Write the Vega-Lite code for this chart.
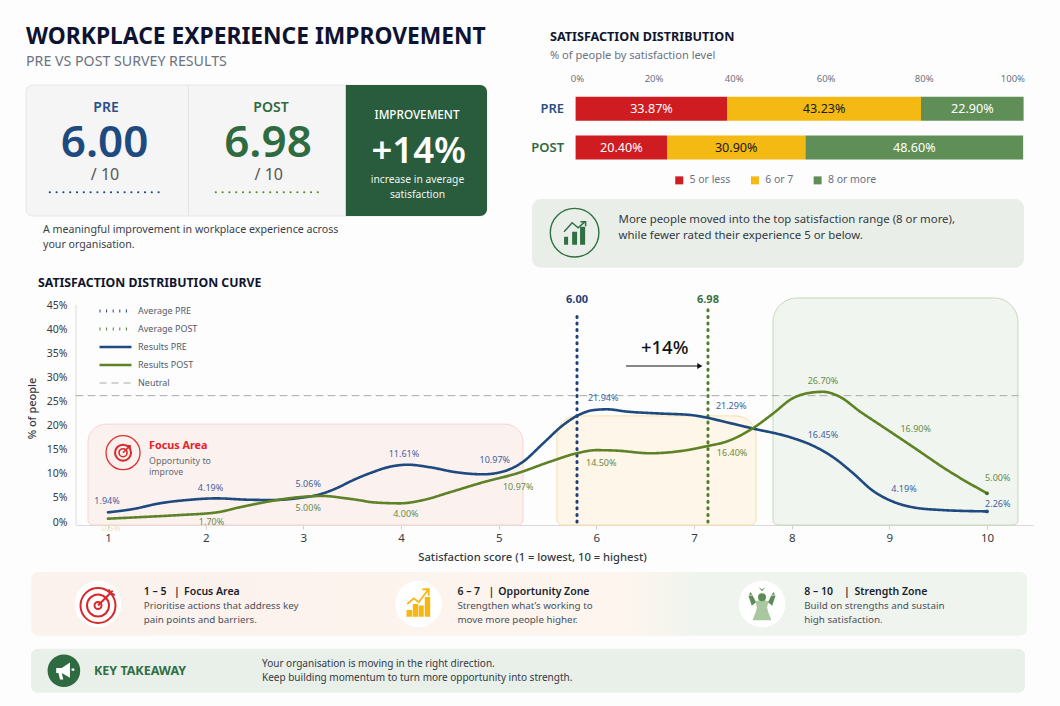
{
  "$schema": "https://vega.github.io/schema/vega-lite/v6.json",
  "description": "Workplace experience improvement, pre vs post survey results.",
  "background": "#fdfdfd",
  "padding": 0,
  "autosize": "none",
  "width": 1060,
  "height": 706,
  "config": {
    "font": "Noto Sans",
    "view": {"stroke": null},
    "axis": {"domain": false, "ticks": false, "labels": false, "grid": false, "title": null}
  },
  "datasets": {
    "curve": [
      {"series": "Average PRE", "score": 5.802, "pct": 0},
      {"series": "Average PRE", "score": 5.802, "pct": 43.2},
      {"series": "Average POST", "score": 7.143, "pct": 0},
      {"series": "Average POST", "score": 7.143, "pct": 44.2},
      {"series": "Neutral", "score": 0.6724, "pct": 26.2},
      {"series": "Neutral", "score": 10.317, "pct": 26.2},
      {"series": "Results PRE", "score": 1.0, "pct": 2.0},
      {"series": "Results PRE", "score": 1.26, "pct": 2.7},
      {"series": "Results PRE", "score": 1.53, "pct": 3.87},
      {"series": "Results PRE", "score": 1.81, "pct": 4.56},
      {"series": "Results PRE", "score": 2.115, "pct": 4.9},
      {"series": "Results PRE", "score": 2.42, "pct": 4.63},
      {"series": "Results PRE", "score": 2.69, "pct": 4.56},
      {"series": "Results PRE", "score": 2.96, "pct": 4.98},
      {"series": "Results PRE", "score": 3.17, "pct": 5.74},
      {"series": "Results PRE", "score": 3.375, "pct": 7.33},
      {"series": "Results PRE", "score": 3.48, "pct": 8.4},
      {"series": "Results PRE", "score": 3.68, "pct": 10.1},
      {"series": "Results PRE", "score": 3.89, "pct": 11.47},
      {"series": "Results PRE", "score": 4.07, "pct": 11.88},
      {"series": "Results PRE", "score": 4.3, "pct": 11.34},
      {"series": "Results PRE", "score": 4.57, "pct": 10.3},
      {"series": "Results PRE", "score": 4.84, "pct": 9.89},
      {"series": "Results PRE", "score": 5.04, "pct": 10.43},
      {"series": "Results PRE", "score": 5.25, "pct": 12.5},
      {"series": "Results PRE", "score": 5.455, "pct": 16.3},
      {"series": "Results PRE", "score": 5.66, "pct": 20.1},
      {"series": "Results PRE", "score": 5.83, "pct": 22.3},
      {"series": "Results PRE", "score": 5.97, "pct": 23.2},
      {"series": "Results PRE", "score": 6.11, "pct": 23.37},
      {"series": "Results PRE", "score": 6.31, "pct": 22.9},
      {"series": "Results PRE", "score": 6.65, "pct": 22.5},
      {"series": "Results PRE", "score": 6.96, "pct": 22.2},
      {"series": "Results PRE", "score": 7.14, "pct": 21.6},
      {"series": "Results PRE", "score": 7.33, "pct": 20.7},
      {"series": "Results PRE", "score": 7.6, "pct": 19.4},
      {"series": "Results PRE", "score": 7.98, "pct": 17.6},
      {"series": "Results PRE", "score": 8.22, "pct": 15.8},
      {"series": "Results PRE", "score": 8.42, "pct": 13.5},
      {"series": "Results PRE", "score": 8.63, "pct": 10.1},
      {"series": "Results PRE", "score": 8.83, "pct": 6.5},
      {"series": "Results PRE", "score": 9.04, "pct": 4.2},
      {"series": "Results PRE", "score": 9.24, "pct": 3.05},
      {"series": "Results PRE", "score": 9.52, "pct": 2.5},
      {"series": "Results PRE", "score": 10, "pct": 2.2},
      {"series": "Results POST", "score": 1.0, "pct": 0.69},
      {"series": "Results POST", "score": 1.36, "pct": 1.04},
      {"series": "Results POST", "score": 1.74, "pct": 1.45},
      {"series": "Results POST", "score": 2.115, "pct": 2.0},
      {"series": "Results POST", "score": 2.35, "pct": 3.05},
      {"series": "Results POST", "score": 2.63, "pct": 4.2},
      {"series": "Results POST", "score": 2.97, "pct": 5.18},
      {"series": "Results POST", "score": 3.2, "pct": 5.4},
      {"series": "Results POST", "score": 3.41, "pct": 4.98},
      {"series": "Results POST", "score": 3.58, "pct": 4.5},
      {"series": "Results POST", "score": 3.71, "pct": 4.08},
      {"series": "Results POST", "score": 3.99, "pct": 3.87},
      {"series": "Results POST", "score": 4.23, "pct": 4.56},
      {"series": "Results POST", "score": 4.5, "pct": 6.16},
      {"series": "Results POST", "score": 4.84, "pct": 8.23},
      {"series": "Results POST", "score": 5.19, "pct": 10.1},
      {"series": "Results POST", "score": 5.525, "pct": 12.5},
      {"series": "Results POST", "score": 5.8, "pct": 14.25},
      {"series": "Results POST", "score": 6.0, "pct": 14.9},
      {"series": "Results POST", "score": 6.21, "pct": 14.8},
      {"series": "Results POST", "score": 6.55, "pct": 14.25},
      {"series": "Results POST", "score": 6.86, "pct": 14.7},
      {"series": "Results POST", "score": 7.14, "pct": 15.76},
      {"series": "Results POST", "score": 7.33, "pct": 16.66},
      {"series": "Results POST", "score": 7.6, "pct": 19.4},
      {"series": "Results POST", "score": 7.81, "pct": 22.5},
      {"series": "Results POST", "score": 8.01, "pct": 25.65},
      {"series": "Results POST", "score": 8.19, "pct": 26.8},
      {"series": "Results POST", "score": 8.32, "pct": 27.0},
      {"series": "Results POST", "score": 8.49, "pct": 26.0},
      {"series": "Results POST", "score": 8.7, "pct": 22.9},
      {"series": "Results POST", "score": 8.93, "pct": 19.8},
      {"series": "Results POST", "score": 9.24, "pct": 15.6},
      {"series": "Results POST", "score": 9.59, "pct": 10.8},
      {"series": "Results POST", "score": 10, "pct": 5.95}
    ],
    "curveLabels": [
      {"survey": "PRE", "label": "1.94%", "score": 0.99, "pct": 4.35},
      {"survey": "PRE", "label": "4.19%", "score": 2.05, "pct": 7.1},
      {"survey": "PRE", "label": "5.06%", "score": 3.05, "pct": 7.88},
      {"survey": "PRE", "label": "11.61%", "score": 4.03, "pct": 14.1},
      {"survey": "PRE", "label": "10.97%", "score": 4.96, "pct": 12.8},
      {"survey": "PRE", "label": "21.94%", "score": 6.07, "pct": 25.8},
      {"survey": "PRE", "label": "21.29%", "score": 7.38, "pct": 24.1},
      {"survey": "PRE", "label": "16.45%", "score": 8.32, "pct": 18},
      {"survey": "PRE", "label": "4.19%", "score": 9.15, "pct": 6.9},
      {"survey": "PRE", "label": "2.26%", "score": 10.11, "pct": 3.8},
      {"survey": "POST", "label": "1.70%", "score": 2.06, "pct": 0.06},
      {"survey": "POST", "label": "5.00%", "score": 3.05, "pct": 2.97},
      {"survey": "POST", "label": "4.00%", "score": 4.05, "pct": 1.72},
      {"survey": "POST", "label": "10.97%", "score": 5.2, "pct": 7.2},
      {"survey": "POST", "label": "14.50%", "score": 6.05, "pct": 12.3},
      {"survey": "POST", "label": "16.40%", "score": 7.39, "pct": 14.3},
      {"survey": "POST", "label": "26.70%", "score": 8.32, "pct": 29.2},
      {"survey": "POST", "label": "16.90%", "score": 9.27, "pct": 19.3},
      {"survey": "POST", "label": "5.00%", "score": 10.11, "pct": 9.1}
    ],
    "shares": [
      {"survey": "PRE", "level": "5 or less", "rank": 1, "share": 33.87, "label": "33.87%"},
      {"survey": "PRE", "level": "6 or 7", "rank": 2, "share": 43.23, "label": "43.23%"},
      {"survey": "PRE", "level": "8 or more", "rank": 3, "share": 22.9, "label": "22.90%"},
      {"survey": "POST", "level": "5 or less", "rank": 1, "share": 20.4, "label": "20.40%"},
      {"survey": "POST", "level": "6 or 7", "rank": 2, "share": 30.9, "label": "30.90%"},
      {"survey": "POST", "level": "8 or more", "rank": 3, "share": 48.6, "label": "48.60%"}
    ]
  },
  "data": {"values": [{}]},
  "resolve": {"scale": {"x": "independent", "y": "independent", "color": "independent", "strokeDash": "independent", "strokeWidth": "independent"}},
  "layer": [
    {
      "layer": [
        {"mark": {"type": "text", "text": "WORKPLACE EXPERIENCE IMPROVEMENT", "align": "left", "baseline": "alphabetic", "fontSize": 22.8, "fontWeight": 700, "color": "#0d1330"},
          "encoding": {"x": {"datum": 26, "scale": {"domain": [0, 1060], "range": [0, 1060], "nice": false, "zero": false}}, "y": {"datum": 44, "scale": {"domain": [0, 706], "range": [0, 706], "nice": false, "zero": false}}}},
        {"mark": {"type": "text", "text": "PRE VS POST SURVEY RESULTS", "align": "left", "baseline": "alphabetic", "fontSize": 14.2, "color": "#6b7280"},
          "encoding": {"x": {"datum": 26}, "y": {"datum": 66}}},
        {"mark": {"type": "rect", "fill": "#f5f5f5", "stroke": "#e6e6e6", "cornerRadius": 7},
          "encoding": {"x": {"datum": 26}, "x2": {"datum": 487}, "y": {"datum": 85}, "y2": {"datum": 216}}},
        {"mark": {"type": "rule", "color": "#e3e3e3"},
          "encoding": {"x": {"datum": 188.3}, "y": {"datum": 85}, "y2": {"datum": 216}}},
        {"mark": {"type": "rect", "fill": "#285c3d", "cornerRadiusTopRight": 7, "cornerRadiusBottomRight": 7},
          "encoding": {"x": {"datum": 345.8}, "x2": {"datum": 487}, "y": {"datum": 85}, "y2": {"datum": 216}}},
        {"data": {"values": [{"survey": "PRE"}]},
          "mark": {"type": "text", "fontSize": 14, "fontWeight": 600, "color": "#2a5085"},
          "encoding": {"text": {"field": "survey"}, "x": {"datum": 106}, "y": {"datum": 108}}},
        {"data": {"values": [{"survey": "POST"}]},
          "mark": {"type": "text", "fontSize": 14, "fontWeight": 600, "color": "#2f6b40"},
          "encoding": {"text": {"field": "survey"}, "x": {"datum": 271}, "y": {"datum": 108}}},
        {"data": {"values": [{"average": 6.0}]},
          "mark": {"type": "text", "baseline": "alphabetic", "fontSize": 44, "fontWeight": 600, "color": "#1f4a80"},
          "encoding": {"text": {"field": "average", "format": ".2f"}, "x": {"datum": 104.6}, "y": {"datum": 157.3}}},
        {"data": {"values": [{"average": 6.98}]},
          "mark": {"type": "text", "baseline": "alphabetic", "fontSize": 44, "fontWeight": 600, "color": "#2f6b40"},
          "encoding": {"text": {"field": "average", "format": ".2f"}, "x": {"datum": 268}, "y": {"datum": 157.3}}},
        {"mark": {"type": "text", "text": "/ 10", "fontSize": 16, "color": "#555555"},
          "encoding": {"x": {"datum": 105}, "y": {"datum": 174.7}}},
        {"mark": {"type": "text", "text": "/ 10", "fontSize": 16, "color": "#555555"},
          "encoding": {"x": {"datum": 268.8}, "y": {"datum": 174.7}}},
        {"mark": {"type": "rule", "color": "#1f4a80", "strokeWidth": 2, "strokeCap": "round", "strokeDash": [0.2, 6.6]},
          "encoding": {"x": {"datum": 49.7}, "x2": {"datum": 159}, "y": {"datum": 192.3}}},
        {"mark": {"type": "rule", "color": "#5d8a2a", "strokeWidth": 2, "strokeCap": "round", "strokeDash": [0.2, 6.6]},
          "encoding": {"x": {"datum": 215.7}, "x2": {"datum": 320}, "y": {"datum": 192.3}}},
        {"mark": {"type": "text", "text": "IMPROVEMENT", "fontSize": 11.7, "fontWeight": 500, "color": "#ffffff"},
          "encoding": {"x": {"datum": 417}, "y": {"datum": 115}}},
        {"mark": {"type": "text", "text": "+14%", "baseline": "alphabetic", "fontSize": 36.5, "fontWeight": 600, "color": "#ffffff"},
          "encoding": {"x": {"datum": 418.7}, "y": {"datum": 163.3}}},
        {"mark": {"type": "text", "text": "increase in average", "fontSize": 10.3, "color": "#f0f4f0"},
          "encoding": {"x": {"datum": 417.5}, "y": {"datum": 180.3}}},
        {"mark": {"type": "text", "text": "satisfaction", "fontSize": 10.3, "color": "#f0f4f0"},
          "encoding": {"x": {"datum": 417.5}, "y": {"datum": 194.7}}},
        {"mark": {"type": "text", "text": "A meaningful improvement in workplace experience across", "align": "left", "fontSize": 10.65, "color": "#3a3f4a"},
          "encoding": {"x": {"datum": 43}, "y": {"datum": 230}}},
        {"mark": {"type": "text", "text": "your organisation.", "align": "left", "fontSize": 10.65, "color": "#3a3f4a"},
          "encoding": {"x": {"datum": 43}, "y": {"datum": 245}}},
        {"mark": {"type": "text", "text": "SATISFACTION DISTRIBUTION", "align": "left", "fontSize": 12.6, "fontWeight": 700, "color": "#10162f"},
          "encoding": {"x": {"datum": 550}, "y": {"datum": 37}}},
        {"mark": {"type": "text", "text": "% of people by satisfaction level", "align": "left", "fontSize": 11.1, "color": "#6b7280"},
          "encoding": {"x": {"datum": 550}, "y": {"datum": 56}}},
        {"mark": {"type": "rect", "fill": "#e9efe8", "cornerRadius": 9},
          "encoding": {"x": {"datum": 532}, "x2": {"datum": 1024}, "y": {"datum": 199}, "y2": {"datum": 267.7}}},
        {"mark": {"type": "point", "shape": "circle", "filled": false, "size": 2362, "stroke": "#2f7044", "strokeWidth": 1.4, "opacity": 1},
          "encoding": {"x": {"datum": 574.6}, "y": {"datum": 232.7}}},
        {"mark": {"type": "point", "shape": "M-.81,.31 L-.5,.31 L-.5,.92 L-.81,.92 Z M-.19,-.08 L.19,-.08 L.19,.92 L-.19,.92 Z M.42,-.46 L.81,-.46 L.81,.92 L.42,.92 Z", "filled": true, "size": 676, "color": "#2f7044", "opacity": 1},
          "encoding": {"x": {"datum": 574.6}, "y": {"datum": 232.7}}},
        {"mark": {"type": "point", "shape": "M-.81,-.08 L-.19,-.77 L.27,-.38 L.81,-.85 M.45,-.85 L.85,-.85 L.85,-.5", "filled": false, "fill": "transparent", "size": 676, "stroke": "#2f7044", "strokeWidth": 1.5, "opacity": 1},
          "encoding": {"x": {"datum": 574.6}, "y": {"datum": 232.7}}},
        {"mark": {"type": "text", "text": "More people moved into the top satisfaction range (8 or more),", "align": "left", "fontSize": 11.4, "color": "#333a44"},
          "encoding": {"x": {"datum": 618.6}, "y": {"datum": 220.3}}},
        {"mark": {"type": "text", "text": "while fewer rated their experience 5 or below.", "align": "left", "fontSize": 11.4, "color": "#333a44"},
          "encoding": {"x": {"datum": 618.6}, "y": {"datum": 236.3}}},
        {"mark": {"type": "text", "text": "SATISFACTION DISTRIBUTION CURVE", "align": "left", "fontSize": 12.3, "fontWeight": 700, "color": "#10162f"},
          "encoding": {"x": {"datum": 38}, "y": {"datum": 282.7}}},
        {"mark": {"type": "rect", "cornerRadius": 7, "fill": {"gradient": "linear", "x1": 0, "y1": 0, "x2": 1, "y2": 0, "stops": [{"offset": 0, "color": "#fbf1ed"}, {"offset": 0.6, "color": "#fdf5ee"}, {"offset": 0.67, "color": "#f0f4ee"}, {"offset": 1, "color": "#f0f4ef"}]}},
          "encoding": {"x": {"datum": 31.4}, "x2": {"datum": 1027}, "y": {"datum": 572}, "y2": {"datum": 635.7}}},
        {"mark": {"type": "rect", "fill": "#e9efe9", "cornerRadius": 7},
          "encoding": {"x": {"datum": 31}, "x2": {"datum": 1025}, "y": {"datum": 648.7}, "y2": {"datum": 692.7}}},
        {"mark": {"type": "point", "shape": "circle", "filled": true, "size": 2172, "color": "#ffffff", "opacity": 1},
          "encoding": {"x": {"datum": 98}, "y": {"datum": 604}}},
        {"mark": {"type": "point", "shape": "circle", "filled": true, "size": 2172, "color": "#ffffff", "opacity": 1},
          "encoding": {"x": {"datum": 418.5}, "y": {"datum": 604}}},
        {"mark": {"type": "point", "shape": "circle", "filled": true, "size": 2172, "color": "#ffffff", "opacity": 1},
          "encoding": {"x": {"datum": 762}, "y": {"datum": 604}}},
        {"mark": {"type": "point", "shape": "circle", "filled": false, "size": 1225, "stroke": "#d8282a", "strokeWidth": 2, "opacity": 1},
          "encoding": {"x": {"datum": 98}, "y": {"datum": 605.5}}},
        {"mark": {"type": "point", "shape": "circle", "filled": false, "size": 484, "stroke": "#d8282a", "strokeWidth": 2, "opacity": 1},
          "encoding": {"x": {"datum": 98}, "y": {"datum": 605.5}}},
        {"mark": {"type": "point", "shape": "circle", "filled": false, "size": 49, "stroke": "#d8282a", "strokeWidth": 2, "opacity": 1},
          "encoding": {"x": {"datum": 98}, "y": {"datum": 605.5}}},
        {"mark": {"type": "point", "shape": "M0,0 L.92,-.92 M.66,-1 L.8,-.75 L1.05,-.66", "filled": false, "fill": "transparent", "size": 1024, "stroke": "#d8282a", "strokeWidth": 2, "opacity": 1},
          "encoding": {"x": {"datum": 98}, "y": {"datum": 605.5}}},
        {"mark": {"type": "point", "shape": "M-.8,.4 L-.42,.4 L-.42,.85 L-.8,.85 Z M-.38,0 L-.02,0 L-.02,.85 L-.38,.85 Z M.02,.1 L.35,.1 L.35,.85 L.02,.85 Z M.42,-.47 L.78,-.47 L.78,.85 L.42,.85 Z", "filled": true, "size": 900, "color": "#f6b713", "opacity": 1},
          "encoding": {"x": {"datum": 418.5}, "y": {"datum": 604}}},
        {"mark": {"type": "point", "shape": "M-.75,0 L-.31,-.38 L.02,-.12 L.65,-.97 M.25,-.97 L.68,-1 L.68,-.55", "filled": false, "fill": "transparent", "size": 900, "stroke": "#f6b713", "strokeWidth": 1.8, "opacity": 1},
          "encoding": {"x": {"datum": 418.5}, "y": {"datum": 604}}},
        {"mark": {"type": "point", "shape": "M-.38,-.15 C-.2,-.25 .2,-.25 .38,-.15 L.3,.2 C.35,.5 .5,.75 .55,.95 L-.55,.95 C-.5,.75 -.35,.5 -.3,.2 Z", "filled": true, "size": 1156, "color": "#a9c8a0", "opacity": 1},
          "encoding": {"x": {"datum": 762}, "y": {"datum": 604}}},
        {"mark": {"type": "point", "shape": "M-.35,-.1 L-.55,-.5 L-.8,-.5 L-.6,.1 Z M.35,-.1 L.55,-.5 L.8,-.5 L.6,.1 Z M-.7,-.7 L-.55,-.55 L-.75,-.55 Z M.7,-.7 L.55,-.55 L.75,-.55 Z M-.2,-1 L0,-.85 L.2,-1 L0,-.75 Z", "filled": true, "size": 1156, "color": "#5b8e56", "opacity": 1},
          "encoding": {"x": {"datum": 762}, "y": {"datum": 604}}},
        {"mark": {"type": "point", "shape": "circle", "filled": true, "size": 64, "color": "#5b8e56", "opacity": 1},
          "encoding": {"x": {"datum": 762}, "y": {"datum": 597.3}}},
        {"mark": {"type": "point", "shape": "circle", "filled": true, "size": 1064, "color": "#2f6b40", "opacity": 1},
          "encoding": {"x": {"datum": 63.9}, "y": {"datum": 670.7}}},
        {"mark": {"type": "point", "shape": "M-.7,-.25 L-.2,-.25 L.55,-.75 L.55,.65 L-.2,.2 L-.7,.2 Z M-.5,.2 L-.2,.2 L-.05,.8 L-.35,.8 Z M.7,-.2 L.95,-.2 L.95,0 L.7,0 Z", "filled": true, "size": 484, "color": "#ffffff", "opacity": 1},
          "encoding": {"x": {"datum": 63.9}, "y": {"datum": 670.7}}},
        {"mark": {"type": "text", "text": "1 – 5", "align": "left", "fontSize": 10.5, "fontWeight": 600, "color": "#1a1f2b"}, "encoding": {"x": {"datum": 143.7}, "y": {"datum": 591.7}}},
        {"mark": {"type": "text", "text": "|", "align": "left", "fontSize": 10.5, "fontWeight": 600, "color": "#1a1f2b"}, "encoding": {"x": {"datum": 174}, "y": {"datum": 591.7}}},
        {"mark": {"type": "text", "text": "Focus Area", "align": "left", "fontSize": 10.5, "fontWeight": 600, "color": "#1a1f2b"}, "encoding": {"x": {"datum": 184}, "y": {"datum": 591.7}}},
        {"mark": {"type": "text", "text": "Prioritise actions that address key", "align": "left", "fontSize": 9.8, "color": "#4b505b"}, "encoding": {"x": {"datum": 143.7}, "y": {"datum": 606.3}}},
        {"mark": {"type": "text", "text": "pain points and barriers.", "align": "left", "fontSize": 9.8, "color": "#4b505b"}, "encoding": {"x": {"datum": 143.7}, "y": {"datum": 619.7}}},
        {"mark": {"type": "text", "text": "6 – 7", "align": "left", "fontSize": 10.5, "fontWeight": 600, "color": "#1a1f2b"}, "encoding": {"x": {"datum": 457.4}, "y": {"datum": 591.7}}},
        {"mark": {"type": "text", "text": "|", "align": "left", "fontSize": 10.5, "fontWeight": 600, "color": "#1a1f2b"}, "encoding": {"x": {"datum": 488.5}, "y": {"datum": 591.7}}},
        {"mark": {"type": "text", "text": "Opportunity Zone", "align": "left", "fontSize": 10.5, "fontWeight": 600, "color": "#1a1f2b"}, "encoding": {"x": {"datum": 498.3}, "y": {"datum": 591.7}}},
        {"mark": {"type": "text", "text": "Strengthen what’s working to", "align": "left", "fontSize": 9.8, "color": "#4b505b"}, "encoding": {"x": {"datum": 457.4}, "y": {"datum": 606.3}}},
        {"mark": {"type": "text", "text": "move more people higher.", "align": "left", "fontSize": 9.8, "color": "#4b505b"}, "encoding": {"x": {"datum": 457.4}, "y": {"datum": 619.7}}},
        {"mark": {"type": "text", "text": "8 – 10", "align": "left", "fontSize": 10.5, "fontWeight": 600, "color": "#1a1f2b"}, "encoding": {"x": {"datum": 804.2}, "y": {"datum": 591.7}}},
        {"mark": {"type": "text", "text": "|", "align": "left", "fontSize": 10.5, "fontWeight": 600, "color": "#1a1f2b"}, "encoding": {"x": {"datum": 844}, "y": {"datum": 591.7}}},
        {"mark": {"type": "text", "text": "Strength Zone", "align": "left", "fontSize": 10.5, "fontWeight": 600, "color": "#1a1f2b"}, "encoding": {"x": {"datum": 854.5}, "y": {"datum": 591.7}}},
        {"mark": {"type": "text", "text": "Build on strengths and sustain", "align": "left", "fontSize": 9.8, "color": "#4b505b"}, "encoding": {"x": {"datum": 804.2}, "y": {"datum": 606.3}}},
        {"mark": {"type": "text", "text": "high satisfaction.", "align": "left", "fontSize": 9.8, "color": "#4b505b"}, "encoding": {"x": {"datum": 804.2}, "y": {"datum": 619.7}}},
        {"mark": {"type": "text", "text": "KEY TAKEAWAY", "align": "left", "fontSize": 12.5, "fontWeight": 700, "color": "#2f7044"}, "encoding": {"x": {"datum": 94}, "y": {"datum": 670.7}}},
        {"mark": {"type": "text", "text": "Your organisation is moving in the right direction.", "align": "left", "fontSize": 10, "color": "#333a44"}, "encoding": {"x": {"datum": 262}, "y": {"datum": 664}}},
        {"mark": {"type": "text", "text": "Keep building momentum to turn more opportunity into strength.", "align": "left", "fontSize": 10, "color": "#333a44"}, "encoding": {"x": {"datum": 262}, "y": {"datum": 677.7}}}
      ]
    },
    {
      "data": {"name": "shares"},
      "layer": [
        {
          "mark": {"type": "bar", "size": 24},
          "encoding": {
            "x": {
              "field": "share",
              "type": "quantitative",
              "stack": "zero",
              "scale": {"domain": [0, 100], "range": [575.6, 1023.6], "nice": false},
              "axis": {
                "orient": "top",
                "offset": -89.3,
                "title": null,
                "labels": true,
                "values": [0.3, 17.4, 35.3, 55.8, 77.7, 97.5],
                "labelExpr": "indexof([0.3, 17.4, 35.3, 55.8, 77.7, 97.5], datum.value) * 20 + '%'",
                "labelFontSize": 9.5,
                "labelColor": "#6b7280",
                "labelPadding": 6,
                "labelFlush": false
              }
            },
            "y": {
              "field": "survey",
              "type": "nominal",
              "scale": {"domain": ["PRE", "POST"], "range": [89.3, 166.9], "paddingInner": 0, "paddingOuter": 0},
              "axis": {
                "orient": "left",
                "offset": -575.6,
                "title": null,
                "labels": true,
                "labelFontSize": 13,
                "labelFontWeight": 600,
                "labelPadding": 12,
                "labelColor": {"expr": "datum.value == 'PRE' ? '#2a5085' : '#2f6b40'"}
              }
            },
            "color": {
              "field": "level",
              "type": "nominal",
              "scale": {"domain": ["5 or less", "6 or 7", "8 or more"], "range": ["#cf1c20", "#f4b912", "#5f8f56"]},
              "legend": {
                "orient": "none",
                "legendX": 674,
                "legendY": 175,
                "direction": "horizontal",
                "title": null,
                "symbolType": "square",
                "symbolSize": 64,
                "symbolStrokeWidth": 0,
                "labelFontSize": 10.5,
                "labelColor": "#6b7280",
                "columnPadding": 18.7,
                "labelOffset": 5
              }
            },
            "order": {"field": "rank"}
          }
        },
        {
          "mark": {"type": "text", "fontSize": 12.6},
          "encoding": {
            "x": {"field": "share", "type": "quantitative", "stack": "zero", "bandPosition": 0.5},
            "y": {"field": "survey", "type": "nominal"},
            "detail": {"field": "level"},
            "order": {"field": "rank"},
            "text": {"field": "label"},
            "color": {"condition": {"test": "datum.level == '6 or 7'", "value": "#1a1a1a"}, "value": "#ffffff"}
          }
        }
      ]
    },
    {
      "layer": [
        {"mark": {"type": "rect", "fill": "#fbf2ef", "stroke": "#f6d5d2", "cornerRadiusTopLeft": 18, "cornerRadiusTopRight": 18, "cornerRadiusBottomLeft": 5, "cornerRadiusBottomRight": 5},
          "encoding": {
            "x": {
              "datum": 0.795,
              "scale": {"domain": [0.6724, 10.471], "range": [76, 1033], "nice": false, "zero": false},
              "axis": {
                "orient": "bottom",
                "offset": -181,
                "domain": true, "domainColor": "#d9d9d9", "ticks": true, "tickColor": "#cfcfcf", "tickSize": 4, "labels": true,
                "values": [1, 2, 3, 4, 5, 6, 7, 8, 9, 10], "format": "d", "labelFontSize": 11.5, "labelColor": "#333a44", "labelPadding": 3,
                "title": "Satisfaction score (1 = lowest, 10 = highest)", "titleFontSize": 11.2, "titleFontWeight": 500, "titleColor": "#333a44", "titleX": 532, "titleY": 32, "titleBaseline": "middle"
              }
            },
            "x2": {"datum": 5.249},
            "y": {
              "datum": 20.3,
              "scale": {"domain": [-0.622, 52.26], "range": [525, 270], "nice": false, "zero": false},
              "axis": {
                "orient": "left",
                "offset": -76,
                "labels": true, "values": [0, 5, 10, 15, 20, 25, 30, 35, 40, 45], "labelExpr": "datum.value + '%'", "labelFontSize": 10.5, "labelColor": "#333a44", "labelPadding": 9,
                "title": "% of people", "titleFontSize": 11, "titleFontWeight": 500, "titleColor": "#333a44", "titleX": -39, "titleY": 408
              }
            },
            "y2": {"datum": -0.622}
          }},
        {"mark": {"type": "rect", "fill": "#fdf6e9", "stroke": "#f9dfa8", "cornerRadiusTopLeft": 20, "cornerRadiusTopRight": 20, "cornerRadiusBottomLeft": 5, "cornerRadiusBottomRight": 5},
          "encoding": {"x": {"datum": 5.597}, "x2": {"datum": 7.635}, "y": {"datum": 22}, "y2": {"datum": -0.622}}},
        {"mark": {"type": "rect", "fill": "#f1f5ef", "stroke": "#c3dbb8", "cornerRadiusTopLeft": 24, "cornerRadiusTopRight": 24, "cornerRadiusBottomLeft": 5, "cornerRadiusBottomRight": 5},
          "encoding": {"x": {"datum": 7.809}, "x2": {"datum": 10.317}, "y": {"datum": 46.45}, "y2": {"datum": -0.622}}},
        {"mark": {"type": "rule", "color": "#dcdcdc"},
          "encoding": {"x": {"datum": 0.6724}, "y": {"datum": 45}, "y2": {"datum": -0.622}}},
        {"data": {"name": "curve"},
          "mark": {"type": "line", "interpolate": "monotone", "strokeCap": "round"},
          "encoding": {
            "x": {"field": "score", "type": "quantitative"},
            "y": {"field": "pct", "type": "quantitative"},
            "color": {
              "field": "series", "type": "nominal",
              "scale": {"domain": ["Average PRE", "Average POST", "Results PRE", "Results POST", "Neutral"], "range": ["#1e3f7c", "#4f7d2a", "#1e4a80", "#5d8326", "#a9a9a9"]},
              "legend": {"orient": "none", "legendX": 98, "legendY": 306, "title": null, "symbolType": "stroke", "symbolSize": 1024, "clipHeight": 10, "rowPadding": 8, "labelFontSize": 9, "labelColor": "#555b66", "labelOffset": 5}
            },
            "strokeDash": {
              "field": "series", "type": "nominal",
              "scale": {"domain": ["Average PRE", "Average POST", "Results PRE", "Results POST", "Neutral"], "range": [[1, 5.6], [1, 5.6], [1, 0], [1, 0], [7, 5]]},
              "legend": {"orient": "none", "legendX": 98, "legendY": 306, "title": null, "symbolType": "stroke", "symbolSize": 1024, "clipHeight": 10, "rowPadding": 8, "labelFontSize": 9, "labelColor": "#555b66", "labelOffset": 5}
            },
            "strokeWidth": {
              "field": "series", "type": "nominal",
              "scale": {"type": "ordinal", "domain": ["Average PRE", "Average POST", "Results PRE", "Results POST", "Neutral"], "range": [3, 3, 2.6, 2.6, 1]},
              "legend": {"orient": "none", "legendX": 98, "legendY": 306, "title": null, "symbolType": "stroke", "symbolSize": 1024, "clipHeight": 10, "rowPadding": 8, "labelFontSize": 9, "labelColor": "#555b66", "labelOffset": 5}
            }
          }},
        {"data": {"values": [{"score": 10, "pct": 2.2}]},
          "mark": {"type": "point", "filled": true, "size": 14, "color": "#1e4a80", "opacity": 1},
          "encoding": {"x": {"field": "score", "type": "quantitative"}, "y": {"field": "pct", "type": "quantitative"}}},
        {"data": {"values": [{"score": 10, "pct": 5.95}]},
          "mark": {"type": "point", "filled": true, "size": 14, "color": "#3f6b20", "opacity": 1},
          "encoding": {"x": {"field": "score", "type": "quantitative"}, "y": {"field": "pct", "type": "quantitative"}}},
        {"data": {"name": "curveLabels"},
          "transform": [{"filter": "datum.survey == 'PRE'"}],
          "mark": {"type": "text", "fontSize": 9, "color": "#3f619e"},
          "encoding": {"x": {"field": "score", "type": "quantitative"}, "y": {"field": "pct", "type": "quantitative"}, "text": {"field": "label"}}},
        {"data": {"name": "curveLabels"},
          "transform": [{"filter": "datum.survey == 'POST'"}],
          "mark": {"type": "text", "fontSize": 9, "color": "#6a8b45"},
          "encoding": {"x": {"field": "score", "type": "quantitative"}, "y": {"field": "pct", "type": "quantitative"}, "text": {"field": "label"}}},
        {"data": {"values": [{"score": 1.03, "pct": -1.2, "label": "0.5%"}]},
          "mark": {"type": "text", "fontSize": 8.5, "color": "#f1e3b3"},
          "encoding": {"x": {"field": "score", "type": "quantitative"}, "y": {"field": "pct", "type": "quantitative"}, "text": {"field": "label"}}},
        {"mark": {"type": "text", "text": "6.00", "fontSize": 11, "fontWeight": 700, "color": "#1f3f7a"},
          "encoding": {"x": {"datum": 5.802}, "y": {"datum": 46.1}}},
        {"mark": {"type": "text", "text": "6.98", "fontSize": 11, "fontWeight": 700, "color": "#3a7040"},
          "encoding": {"x": {"datum": 7.143}, "y": {"datum": 46.1}}},
        {"mark": {"type": "text", "text": "+14%", "fontSize": 18.5, "fontWeight": 500, "color": "#111111"},
          "encoding": {"x": {"datum": 6.7}, "y": {"datum": 36.1}}},
        {"mark": {"type": "rule", "color": "#111111", "strokeWidth": 1.2},
          "encoding": {"x": {"datum": 6.304}, "x2": {"datum": 7.05}, "y": {"datum": 32.35}}},
        {"mark": {"type": "point", "shape": "triangle-right", "filled": true, "size": 36, "color": "#111111", "opacity": 1},
          "encoding": {"x": {"datum": 7.06}, "y": {"datum": 32.35}}},
        {"mark": {"type": "point", "shape": "circle", "filled": false, "size": 1156, "stroke": "#e0302f", "strokeWidth": 1.3, "opacity": 1},
          "encoding": {"x": {"datum": 1.154}, "y": {"datum": 14.37}}},
        {"mark": {"type": "point", "shape": "circle", "filled": false, "size": 256, "stroke": "#d8282a", "strokeWidth": 2, "opacity": 1},
          "encoding": {"x": {"datum": 1.154}, "y": {"datum": 14.37}}},
        {"mark": {"type": "point", "shape": "circle", "filled": false, "size": 64, "stroke": "#d8282a", "strokeWidth": 1.6, "opacity": 1},
          "encoding": {"x": {"datum": 1.154}, "y": {"datum": 14.37}}},
        {"mark": {"type": "point", "shape": "M0,0 L1,-1 M.6,-1 L1,-1 L1,-.6", "filled": false, "fill": "transparent", "size": 196, "stroke": "#d8282a", "strokeWidth": 1.6, "opacity": 1},
          "encoding": {"x": {"datum": 1.154}, "y": {"datum": 14.37}}},
        {"mark": {"type": "text", "text": "Focus Area", "align": "left", "fontSize": 10.8, "fontWeight": 700, "color": "#e8212a"},
          "encoding": {"x": {"datum": 1.42}, "y": {"datum": 15.76}}},
        {"mark": {"type": "text", "text": "Opportunity to", "align": "left", "fontSize": 8.9, "color": "#666b75"},
          "encoding": {"x": {"datum": 1.42}, "y": {"datum": 12.71}}},
        {"mark": {"type": "text", "text": "improve", "align": "left", "fontSize": 8.9, "color": "#666b75"},
          "encoding": {"x": {"datum": 1.42}, "y": {"datum": 10.27}}}
      ]
    }
  ]
}
